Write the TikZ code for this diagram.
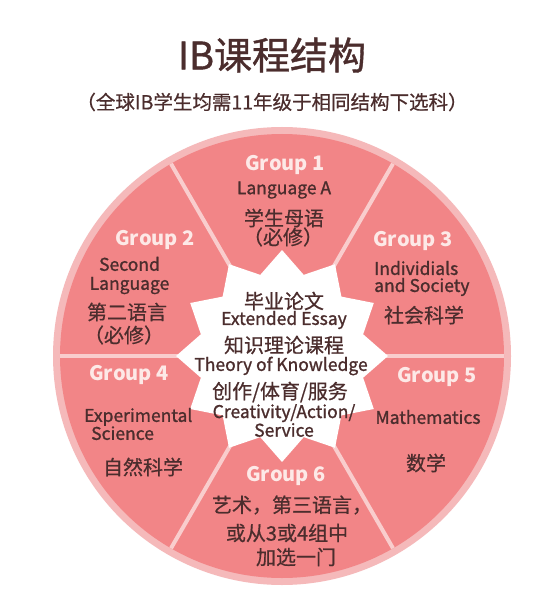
\documentclass[tikz,border=0pt]{standalone}
\usepackage{fontspec}
\setmainfont{Noto Sans CJK SC}
\newfontfamily\enfont[FakeBold=1.2]{Noto Sans CJK SC}
\newfontfamily\cnfont[FakeBold=0.6]{Noto Sans CJK SC}
\newfontfamily\titlefont[FakeBold=1.0]{Noto Sans CJK SC}
\usetikzlibrary{calc}
\definecolor{ringpink}{HTML}{F5B9BA}
\definecolor{segpink}{HTML}{F28587}
\definecolor{divpink}{HTML}{F9CDCD}
\definecolor{starpink}{HTML}{F6C0C1}
\definecolor{txtdark}{HTML}{4B2D2D}
\definecolor{grplabel}{HTML}{FDE9E7}
\pgfdeclareradialshading{starshade}{\pgfpoint{0bp}{0bp}}{color(0bp)=(white); color(24bp)=(white); color(37bp)=(starpink!50!white); color(46bp)=(starpink); color(100bp)=(starpink)}
\newcommand{\fs}[1]{\fontsize{#1}{#1}\selectfont}
\newcommand{\fsl}[2]{\fontsize{#1}{#2}\selectfont}
\tikzset{
  grp/.style={text=grplabel, font=\fs{20}\bfseries, inner sep=0pt},
  en/.style={text=txtdark, font=\enfont\fs{17.5}, inner sep=0pt},
  cn/.style={text=txtdark, font=\cnfont\fs{20}, inner sep=0pt},
  divider/.style={draw=divpink, line width=4pt},
}
\begin{document}
\begin{tikzpicture}[x=1pt,y=-1pt]
\useasboundingbox[fill=white] (0,0) rectangle (544,596);
\coordinate (C) at (282,356);
% title
\node[text=txtdark, font=\titlefont\fs{38}, inner sep=0pt] (title) at (272,55) {IB课程结构};
\node[text=txtdark, font=\cnfont\fs{19.5}, inner sep=0pt] (subtitle) at (272,102) {（全球IB学生均需11年级于相同结构下选科）};
% wheel
\fill[ringpink] (C) circle[radius=229];
\fill[segpink] (C) circle[radius=222];
\foreach \a in {0,60,...,300} \draw[divider] (C) -- ++(\a:222);
\shade[shading=starshade, shift={(C)}] plot[samples at={0,...,23}] ({\x*15}:{106-22*mod(\x,2)}) -- cycle;
% group 1
\node[grp] (g1) at (285,165) {Group 1};
\node[en] (g1en) at (284,190) {Language A};
\node[cn] (g1cn) at (284,218) {学生母语};
\node[cn] (g1req) at (283,237) {（必修）};
% group 2
\node[grp] (g2) at (155,240) {Group 2};
\node[en, align=center, font=\enfont\fsl{17.5}{19}] (g2en) at (129.5,275.5) {Second\\Language};
\node[cn] (g2cn) at (127,312) {第二语言};
\node[cn] (g2req) at (124,335) {（必修）};
% group 3
\node[grp] (g3) at (413,241) {Group 3};
\node[en, align=left, anchor=west, font=\enfont\fsl{17.5}{17}] (g3en) at (374,278.5) {Individials\\and Society};
\node[cn] (g3cn) at (424,315) {社会科学};
% group 4
\node[grp] (g4) at (129,375) {Group 4};
\node[en, align=left, anchor=west, font=\enfont\fsl{17.5}{18}] (g4en) at (84,424) {Experimental\\\hspace*{7pt}Science};
\node[cn] (g4cn) at (143,467) {自然科学};
% group 5
\node[grp] (g5) at (437,377) {Group 5};
\node[en] (g5en) at (428,417) {Mathematics};
\node[cn] (g5cn) at (426,463) {数学};
% group 6
\node[grp] (g6) at (286,476) {Group 6};
\node[cn] (g6cn1) at (292,505) {艺术，第三语言，};
\node[cn] (g6cn2) at (287,533) {或从3或4组中};
\node[cn] (g6cn3) at (296,557) {加选一门};
% core
\node[cn] (ee) at (284,301) {毕业论文};
\node[en] (eeen) at (284,320) {Extended Essay};
\node[cn] (tok) at (284,345) {知识理论课程};
\node[en] (token) at (281,366) {Theory of Knowledge};
\node[cn] (cas) at (280,392) {创作/体育/服务};
\node[en, align=center, font=\enfont\fsl{17.5}{15}] (casen) at (284,420.5) {Creativity/Action/\\Service};
\end{tikzpicture}
\end{document}
